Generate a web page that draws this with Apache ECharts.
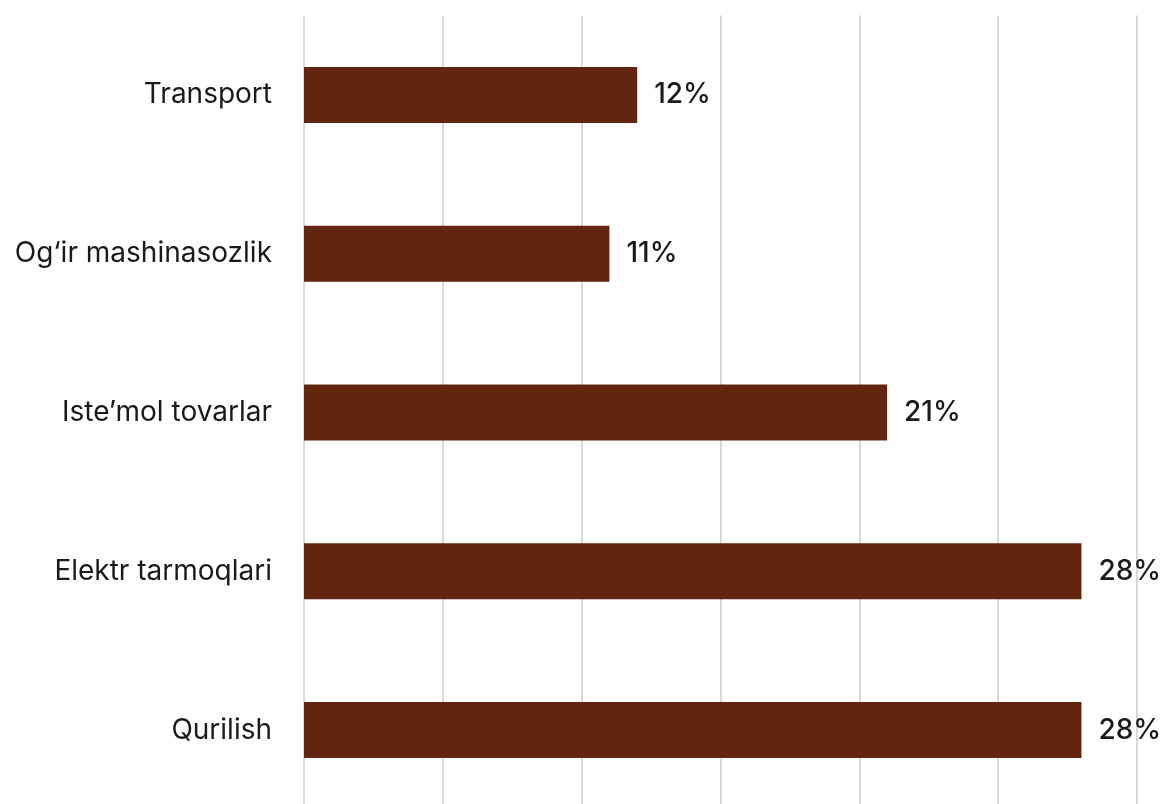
<!DOCTYPE html>
<html><head><meta charset="utf-8">
<script src="https://cdn.jsdelivr.net/npm/echarts@6/dist/echarts.min.js"></script>
<style>html,body{margin:0;padding:0;background:#fff;overflow:hidden}#c{width:1161px;height:810px}</style>
</head><body><div id="c"></div>
<script>
const categories = ["Qurilish", "Elektr tarmoqlari", "Iste\u2019mol tovarlar", "Og\u2018ir mashinasozlik", "Transport"];
const values = [28, 28, 21, 11, 12];
const chart = echarts.init(document.getElementById('c'), null, {renderer: 'canvas'});
chart.setOption({
  animation: false,
  grid: {left: 304, right: 24, top: 15.5, bottom: 0.5, containLabel: false},
  xAxis: {type: 'value', min: 0, max: 30, interval: 5,
    axisLabel: {show: false}, axisLine: {show: false}, axisTick: {show: false},
    splitLine: {show: true, lineStyle: {color: '#d9d9d9', width: 2}}},
  yAxis: {type: 'category', data: categories,
    axisLine: {show: false}, axisTick: {show: false},
    axisLabel: {margin: 32, fontSize: 28, color: '#1a1a1a', fontFamily: 'Inter, "Open Sans", sans-serif'}},
  series: [{type: 'bar', data: values, barWidth: 56,
    itemStyle: {color: '#62250f'},
    label: {show: true, position: 'right', distance: 17, formatter: '{c}%', fontSize: 28, fontWeight: 500, color: '#1a1a1a', fontFamily: 'Inter, "Open Sans", sans-serif'}}]
});
</script></body></html>
